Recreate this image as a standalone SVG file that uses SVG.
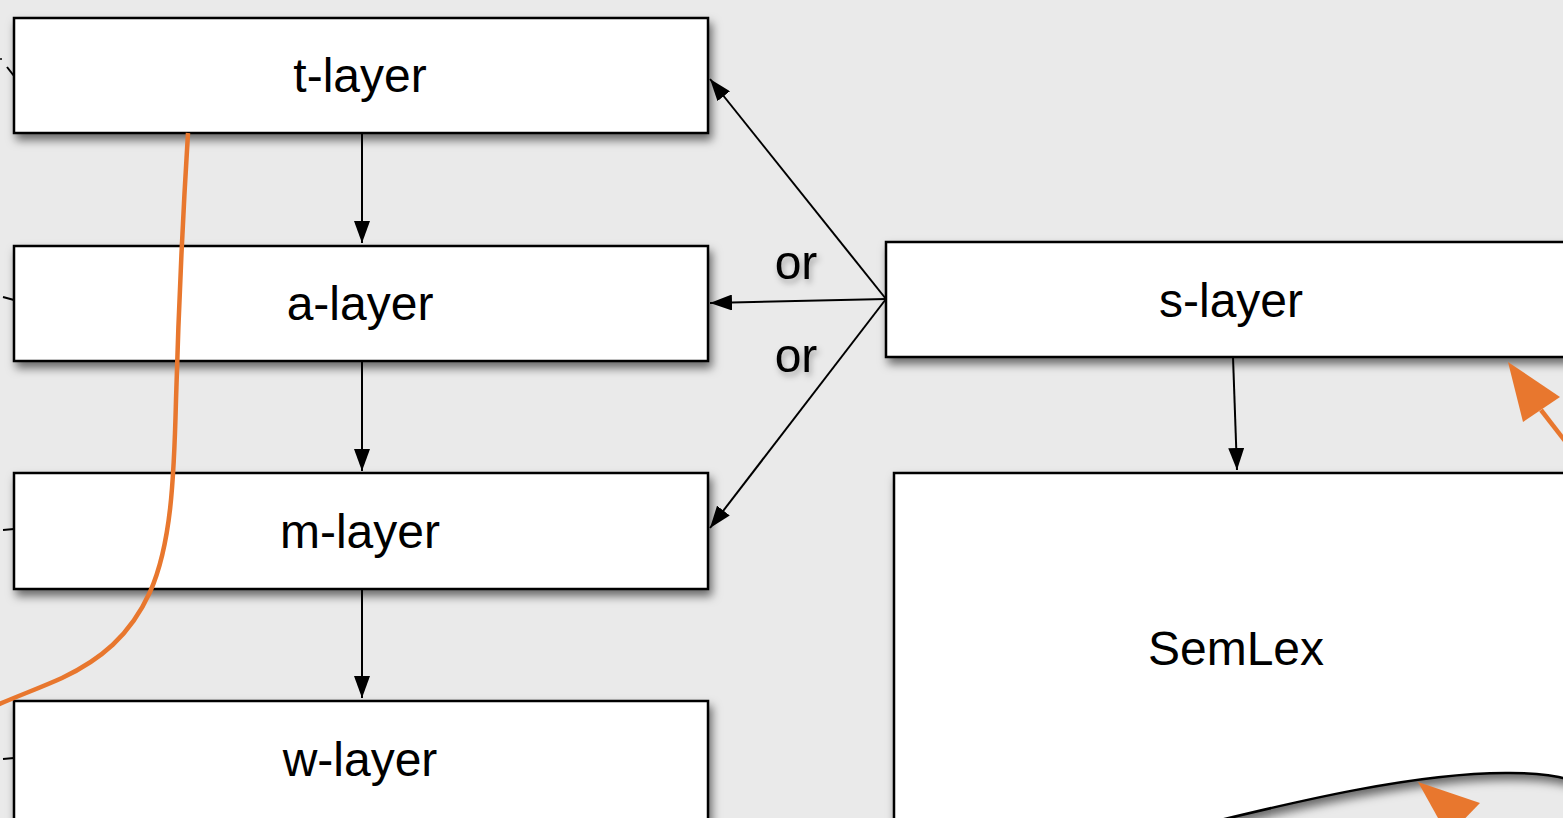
<svg xmlns="http://www.w3.org/2000/svg" width="1563" height="818" viewBox="0 0 1563 818">
<defs>
<filter id="sh" x="-10%" y="-20%" width="130%" height="150%">
<feDropShadow dx="3" dy="6" stdDeviation="5" flood-color="#000" flood-opacity="0.55"/>
</filter>
<filter id="tsh" x="-20%" y="-20%" width="140%" height="160%">
<feDropShadow dx="2" dy="4" stdDeviation="3" flood-color="#000" flood-opacity="0.3"/>
</filter>
<marker id="ah" markerWidth="22" markerHeight="16" refX="22" refY="8" orient="auto" markerUnits="userSpaceOnUse">
<path d="M0,0 L22,8 L0,16 Z" fill="#000"/>
</marker>
</defs>
<style>
.box{fill:#fff;stroke:#000;stroke-width:2.5;filter:url(#sh)}
.lbl{font-family:"Liberation Sans",Arial,sans-serif;font-size:48px;fill:#000;text-anchor:middle}
.con{stroke:#000;stroke-width:2;fill:none}
.or{stroke:#E8772E;fill:none;stroke-width:4.5}
</style>
<rect width="1563" height="818" fill="#EAEAEA"/>

<g id="t-layer"><rect class="box" x="14" y="18" width="694" height="115"/><text class="lbl" x="360" y="92">t-layer</text></g>
<g id="a-layer"><rect class="box" x="14" y="246" width="694" height="115"/><text class="lbl" x="360" y="320">a-layer</text></g>
<g id="m-layer"><rect class="box" x="14" y="473" width="694" height="116"/><text class="lbl" x="360" y="548">m-layer</text></g>
<g id="w-layer"><rect class="box" x="14" y="701" width="694" height="130"/><text class="lbl" x="360" y="776">w-layer</text></g>
<g id="s-layer"><rect class="box" x="886" y="242" width="700" height="115"/><text class="lbl" x="1231" y="317">s-layer</text></g>
<g id="semlex"><path class="box" d="M894,473 H1600 V790 C1570,778 1550,773 1510,773 C1420,772 1300,800 1180,830 H894 Z"/><text class="lbl" x="1236" y="665">SemLex</text></g>

<g id="connectors">
<line class="con" x1="362" y1="133" x2="362" y2="243" marker-end="url(#ah)"/>
<line class="con" x1="362" y1="361" x2="362" y2="471" marker-end="url(#ah)"/>
<line class="con" x1="362" y1="589" x2="362" y2="698" marker-end="url(#ah)"/>
<line class="con" x1="1233" y1="357" x2="1237" y2="470" marker-end="url(#ah)"/>
<line class="con" x1="886" y1="299" x2="710" y2="79" marker-end="url(#ah)"/>
<line class="con" x1="886" y1="299" x2="710" y2="303" marker-end="url(#ah)"/>
<line class="con" x1="886" y1="299" x2="710" y2="528" marker-end="url(#ah)"/>
<line class="con" x1="7" y1="67" x2="14" y2="76"/>
<circle cx="1" cy="59" r="1" fill="#000"/>
<line class="con" x1="3" y1="297" x2="14" y2="300"/>
<line class="con" x1="3" y1="530" x2="14" y2="529"/>
<line class="con" x1="3" y1="759" x2="14" y2="758"/>
<path class="or" d="M188,133 C182,230 178,330 176,400 C174,480 171,545 150,592 C130,636 100,660 62,678 C40,688 15,697 -5,706"/>
<line class="or" x1="1541" y1="410" x2="1572" y2="450"/>
<path d="M1508,362 L1523,422 L1560,397 Z" fill="#E8772E"/>
<path d="M1418,782 L1480,803 L1448,836 Z" fill="#E8772E"/>
</g>
<text class="lbl" x="796" y="279" filter="url(#tsh)">or</text>
<text class="lbl" x="796" y="372" filter="url(#tsh)">or</text>
</svg>
